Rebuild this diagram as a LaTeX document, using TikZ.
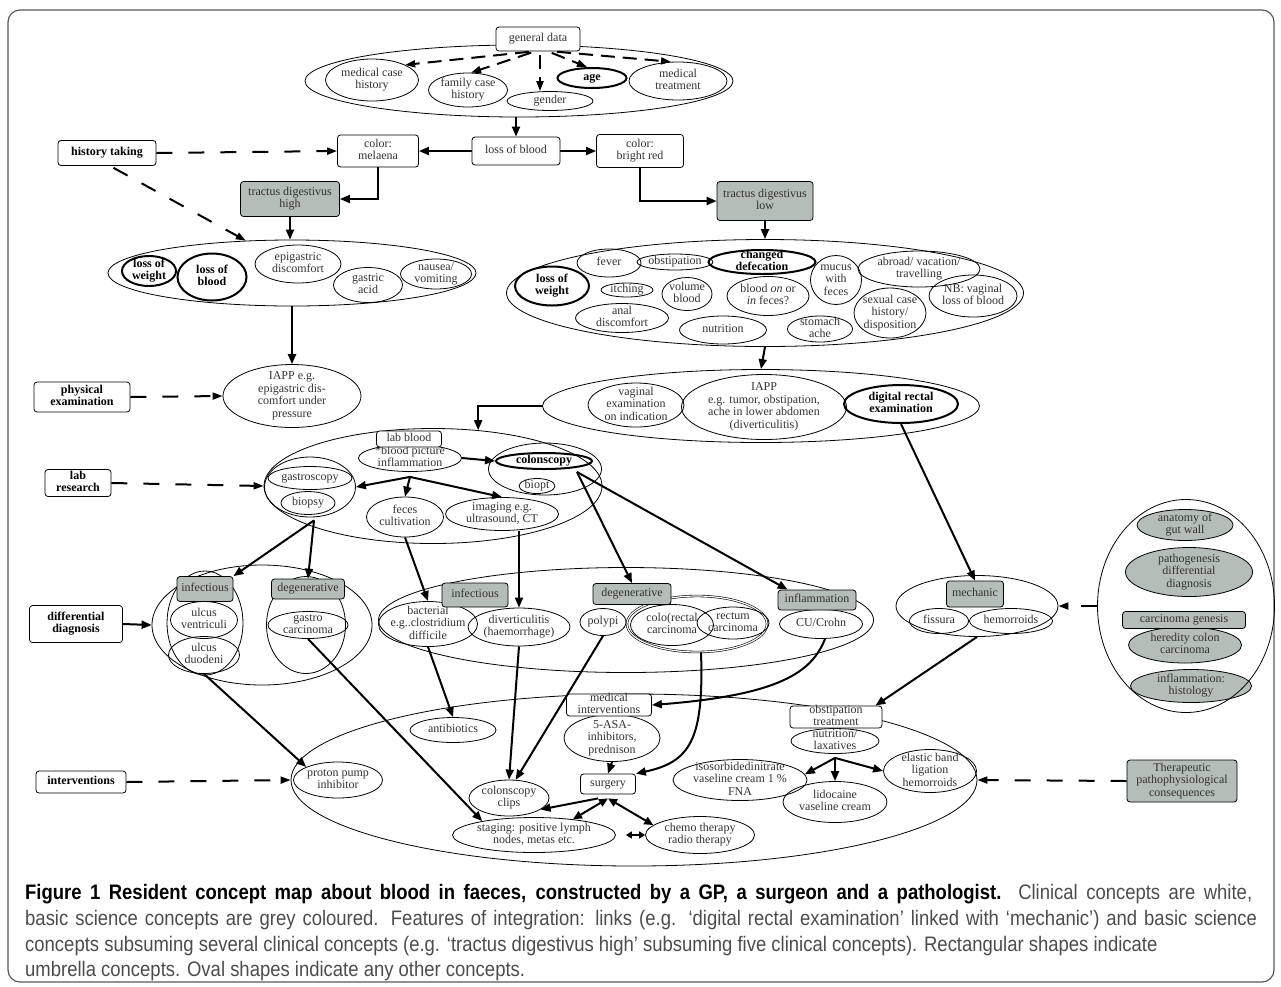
\documentclass[tikz,border=0pt]{standalone}
\usepackage{fontspec}
\setmainfont{Liberation Serif}
\newfontfamily\capfont[FakeStretch=0.88]{Liberation Sans}
\usetikzlibrary{shapes.geometric,arrows.meta}
\definecolor{gfill}{RGB}{181,189,184}
\definecolor{txt}{RGB}{50,50,50}
\newcommand{\zt}[1]{\makebox[0pt]{\raisebox{-3pt}[0pt][0pt]{\begin{tabular}{@{}c@{}}#1\end{tabular}}}}
\begin{document}
\begin{tikzpicture}[x=1pt,y=-1pt,
  every node/.style={font=\fontsize{12}{12.5}\selectfont, text=txt},
  sz/.style 2 args={minimum width=#1pt, minimum height=#2pt},
  ov/.style={ellipse, draw, line width=0.8pt, inner sep=0pt},
  ovt/.style={ellipse, draw, line width=2pt, inner sep=0pt},
  gov/.style={ov, fill=gfill},
  bx/.style={rectangle, rounded corners=3pt, draw, line width=0.8pt, fill=white, inner sep=0pt},
  gbx/.style={bx, fill=gfill},
  bf/.style={font=\fontsize{12}{12.5}\selectfont\bfseries, text=black},
  arr/.style={line width=2pt, -{Triangle[length=10pt,width=8pt]}},
  barr/.style={line width=2pt, {Triangle[length=9pt,width=8pt]}-{Triangle[length=9pt,width=8pt]}},
  sbarr/.style={line width=2pt, {Triangle[length=6pt,width=7pt]}-{Triangle[length=6pt,width=7pt]}},
  darr/.style={line width=2pt, dash pattern=on 16pt off 16pt, -{Triangle[length=10pt,width=7pt]}},
  gdarr/.style={line width=2pt, dash pattern=on 14pt off 8pt, shorten <=4pt, -{Triangle[length=10pt,width=7pt]}}
]
\useasboundingbox (0,0) rectangle (1281,986);
\draw[rounded corners=12pt, line width=1.2pt, black!65] (8,10) rectangle (1274,982);

% ---------- group ellipses ----------
\node[ov, sz={428}{72}] (genell) at (519,81) {};
\node[ov, sz={368}{66}] (highell) at (292,273) {};
\node[ov, sz={517}{107}] (lowell) at (765,293) {};
\node[ov, sz={437}{73}] (iappg) at (761,406) {};
\node[ov, sz={338}{115}] (labg) at (433,486) {};
\node[ov, sz={91}{60}] (gastg) at (310,487) {};
\node[ov, sz={113}{52}] (colg) at (545,469) {};
\node[ov, sz={220}{120}] (dlg) at (262,625) {};
\node[ov, sz={76}{104}] (infg) at (205,623) {};
\node[ov, sz={79}{97}] (degg) at (306,625) {};
\node[ov, sz={495}{105}] (drg) at (626,620) {};
\node[ov, double, double distance=1.2pt, line width=0.6pt, sz={140}{56}] (crg) at (697,624) {};
\node[ov, sz={162}{61}] (mg) at (977,606) {};
\node[ov, sz={686}{172}] (ivg) at (634,780) {};

% ---------- top ----------
\node[ov, sz={93}{42}] (mch) at (372,80) {\zt{medical case\\history}};
\node[ov, sz={79}{34}] (fch) at (468,90) {\zt{family case\\history}};
\node[ov, sz={86}{19}] (gen) at (550,101) {\zt{gender}};
\node[ovt, bf, sz={69}{20}] (age) at (592,78) {\zt{age}};
\node[ov, sz={98}{38}] (mt) at (678,81) {\zt{medical\\treatment}};

% ---------- high ----------
\node[ovt, bf, sz={54}{30}] (lw1) at (149,271) {\zt{loss of\\weight}};
\node[ovt, bf, sz={69}{47}] (lb1) at (212,277) {\zt{loss of\\blood}};
\node[ov, sz={86}{38}] (epi) at (298,264) {\zt{epigastric\\discomfort}};
\node[ov, sz={69}{35}] (ga) at (368,285) {\zt{gastric\\acid}};
\node[ov, sz={71}{30}] (nv) at (436,274) {\zt{nausea/\\vomiting}};
\node[ov, sz={138}{63}] (iapp1) at (292,396) {\zt{IAPP e.g.\\epigastric dis-\\comfort under\\pressure}};

% ---------- low ----------
\node[ov, sz={64}{28}] (fever) at (609,263) {\zt{fever}};
\node[ov, sz={76}{16}] (obst) at (675,262) {\zt{obstipation}};
\node[ovt, bf, sz={107}{24}] (cd) at (762,262) {\zt{changed\\defecation}};
\node[ovt, bf, sz={74}{39}] (lw2) at (552,286) {\zt{loss of\\weight}};
\node[ov, sz={52}{14}] (itch) at (627,290) {\zt{itching}};
\node[ov, sz={50}{33}] (vb) at (687,294) {\zt{volume\\blood}};
\node[ov, sz={82}{39}] (bof) at (768,296) {\zt{blood \textit{on} or\\\textit{in} feces?}};
\node[ov, sz={93}{29}] (ad) at (622,318) {\zt{anal\\discomfort}};
\node[ov, sz={87}{28}] (nut) at (723,330) {\zt{nutrition}};
\node[ov, sz={65}{26}] (sa) at (820,329) {\zt{stomach\\ache}};
\node[ov, sz={51}{49}] (mwf) at (836,280) {\zt{mucus\\with\\feces}};
\node[ov, sz={122}{36}] (abr) at (919,269) {\zt{abroad/ vacation/\\travelling}};
\node[ov, sz={72}{50}] (sch) at (890,313) {\zt{sexual case\\history/\\disposition}};
\node[ov, sz={88}{42}] (nb) at (973,296) {\zt{NB: vaginal\\loss of blood}};

% ---------- IAPP group ----------
\node[ov, sz={96}{44}] (ve) at (636,405) {\zt{vaginal\\examination\\on indication}};
\node[ov, sz={165}{65}] (iapp2) at (764,407) {\zt{IAPP\\e.g. tumor, obstipation,\\ache in lower abdomen\\(diverticulitis)}};
\node[ovt, bf, sz={114}{38}] (dre) at (901,404) {\zt{digital rectal\\examination}};

% ---------- lab ----------
\node[ov, sz={103}{27}] (bp) at (410,458) {\zt{*blood picture\\*inflammation}};
\node[ov, sz={84}{23}] (gast) at (310,478) {\zt{gastroscopy}};
\node[ov, sz={54}{23}] (bio) at (308,503) {\zt{biopsy}};
\node[ovt, bf, sz={96}{16}] (col) at (544,461) {\zt{colonscopy}};
\node[ov, sz={36}{15}] (biopt) at (537,486) {\zt{biopt}};
\node[ov, sz={77}{40}] (fc) at (405,517) {\zt{feces\\cultivation}};
\node[ov, sz={113}{33}] (img) at (502,514) {\zt{imaging e.g.\\ultrasound, CT}};

% ---------- differential ----------
\node[ov, sz={67}{37}] (uv) at (204,620) {\zt{ulcus\\ventriculi}};
\node[ov, sz={71}{37}] (ud) at (204,655) {\zt{ulcus\\duodeni}};
\node[ov, sz={80}{27}] (gc) at (308,625) {\zt{gastro\\carcinoma}};
\node[ov, sz={99}{45}] (bac) at (428,624) {\zt{bacterial\\e.g..clostridium\\difficile}};
\node[ov, sz={102}{38}] (div) at (519,627) {\zt{diverticulitis\\(haemorrhage)}};
\node[ov, sz={46}{27}] (pol) at (603,622) {\zt{polypi}};
\node[ov, sz={83}{41}] (crc) at (672,625) {\zt{colo(rectal\\carcinoma}};
\node[ov, sz={72}{32}] (rc) at (733,623) {\zt{rectum\\carcinoma}};
\node[ov, sz={83}{29}] (cu) at (821,624) {\zt{CU/Crohn}};
\node[ov, sz={59}{25}] (fis) at (939,621) {\zt{fissura}};
\node[ov, sz={83}{25}] (hem) at (1011,621) {\zt{hemorroids}};

% ---------- basic science group ----------
\node[gov, sz={96}{31}] (agw) at (1185,525) {\zt{anatomy of\\gut wall}};
\node[gov, sz={127}{49}] (pdd) at (1189,572) {\zt{pathogenesis\\differential\\diagnosis}};
\node[gov, sz={113}{36}] (hcc) at (1185,645) {\zt{heredity colon\\carcinoma}};
\node[gov, sz={121}{33}] (ih) at (1191,686) {\zt{inflammation:\\histology}};
\node[ov, sz={177}{213}] (bsg) at (1186,606) {};

% ---------- interventions ----------
\node[ov, sz={89}{36}] (ppi) at (338,780) {\zt{proton pump\\inhibitor}};
\node[ov, sz={86}{25}] (ab) at (453,730) {\zt{antibiotics}};
\node[ov, sz={80}{36}] (cc) at (509,798) {\zt{colonscopy\\clips}};
\node[ov, sz={163}{35}] (stg) at (534,835) {\zt{staging: positive lymph\\nodes, metas etc.}};
\node[ov, sz={96}{47}] (asa) at (612,738) {\zt{5-ASA-\\inhibitors,\\prednison}};
\node[ov, sz={109}{37}] (chemo) at (700,835) {\zt{chemo therapy\\radio therapy}};
\node[ov, sz={88}{25}] (nl) at (835,741) {\zt{nutrition/\\laxatives}};
\node[ov, sz={134}{41}] (iso) at (740,780) {\zt{isosorbidedinitrate\\vaseline cream 1 \%\\FNA}};
\node[ov, sz={104}{41}] (lido) at (835,802) {\zt{lidocaine\\vaseline cream}};
\node[ov, sz={93}{43}] (eb) at (930,771) {\zt{elastic band\\ligation\\hemorroids}};

% ---------- boxes ----------
\node[bx, sz={84}{24}] (gd) at (538,39) {\zt{general data}};
\node[bx, sz={88}{28}] (lob) at (516,151) {\zt{loss of blood}};
\node[bx, sz={81}{32}] (mel) at (378,151) {\zt{color:\\melaena}};
\node[bx, sz={87}{33}] (br) at (640,151) {\zt{color:\\bright red}};
\node[bx, bf, sz={98}{25}] (ht) at (107,153) {\zt{history taking}};
\node[gbx, sz={99}{35}] (th) at (290,199) {\zt{tractus digestivus\\high}};
\node[gbx, sz={96}{39}] (tl) at (765,201) {\zt{tractus digestivus\\low}};
\node[bx, bf, sz={96}{30}] (pe) at (82,397) {\zt{physical\\examination}};
\node[bx, bf, sz={66}{27}] (lr) at (78,483) {\zt{lab\\research}};
\node[bx, sz={65}{16}] (lbb) at (409,439) {\zt{lab blood}};
\node[bx, bf, sz={93}{37}] (dd) at (76,624) {\zt{differential\\diagnosis}};
\node[gbx, sz={56}{25}] (inf1) at (205,589) {\zt{infectious}};
\node[gbx, sz={73}{20}] (deg1) at (308,589) {\zt{degenerative}};
\node[gbx, sz={66}{24}] (inf2) at (475,595) {\zt{infectious}};
\node[gbx, sz={78}{21}] (deg2) at (632,594) {\zt{degenerative}};
\node[gbx, sz={78}{20}] (infl) at (817,600) {\zt{inflammation}};
\node[gbx, sz={57}{26}] (mech) at (975,594) {\zt{mechanic}};
\node[gbx, sz={123}{17}] (cg) at (1184,620) {\zt{carcinoma genesis}};
\node[bx, bf, sz={90}{22}] (iv) at (81,782) {\zt{interventions}};
\node[bx, sz={85}{22}] (mi) at (609,705) {\zt{medical\\interventions}};
\node[bx, sz={55}{20}] (sur) at (608,784) {\zt{surgery}};
\node[bx, sz={92}{22}] (ot) at (836,717) {\zt{obstipation\\treatment}};
\node[gbx, sz={110}{42}] (tpc) at (1182,781) {\zt{Therapeutic\\pathophysiological\\consequences}};

% ---------- helper coordinates ----------
\coordinate (bpo) at ([yshift=-5pt]bp.south);
\coordinate (gso) at ([xshift=4pt,yshift=-3pt]gastg.south);
\coordinate (co) at (577,472);
\coordinate (sb) at ([yshift=-4pt]sur.south);
\coordinate (no) at ([yshift=-4pt]nl.south);

% ---------- dashed connectors ----------
\draw[gdarr] ([xshift=-5pt]gd.south) -- (mch.north east);
\draw[gdarr] ([xshift=-3pt]gd.south) -- (fch.80);
\draw[gdarr] ([xshift=2pt]gd.south) -- ([xshift=-10pt]gen.north);
\draw[gdarr] ([xshift=10pt]gd.south) -- ([xshift=-5pt]age.north);
\draw[gdarr] ([xshift=15pt]gd.south) -- (mt.110);
\draw[darr] (ht.east) -- (mel.west);
\draw[darr, shorten <=4pt] ([xshift=3pt]ht.south) -- (highell.145);
\draw[darr] (pe.east) -- (iapp1.west);
\draw[darr] (lr.east) -- (labg.west);
\draw[darr] (iv.east) -- (ivg.west);
\draw[darr] (bsg.west) -- (mg.east);
\draw[darr] (tpc.west) -- (ivg.east);

% ---------- solid connectors ----------
\draw[arr] (genell.south -| lob.north) -- (lob.north);
\draw[arr] (lob.west) -- (mel.east);
\draw[arr] (lob.east) -- (br.west);
\draw[arr] (mel.south) |- (th.east);
\draw[arr] (th.south) -- (th.south |- highell.north);
\draw[arr] (highell.south) -- (iapp1.north);
\draw[arr] (br.south) |- (tl.west);
\draw[arr] (tl.south) -- (lowell.north);
\draw[arr] (lowell.south) -- (iappg.north);
\draw[arr] (iappg.west) -| (labg.51);
\draw[arr] (bpo) -- (gastg.east);
\draw[arr] (bpo) -- (fc.north);
\draw[arr] (bpo) -- (img.north);
\draw[arr] (bp.east) -- (col.west);
\draw[arr] (gso) -- (inf1.north east);
\draw[arr] (gso) -- (deg1.north);
\draw[arr] (fc.south) -- (bac.north);
\draw[arr] (img.south -| div.north) -- (div.north);
\draw[arr] (co) -- (deg2.north);
\draw[arr] (co) -- ([xshift=10pt]infl.north west);
\draw[arr] (dre.south) -- (mech.north);
\draw[arr] (dd.east) -- (dlg.west);
\draw[arr] (bac.south) -- (ab.north);
\draw[arr] (div.south) -- (cc.north);
\draw[arr] (pol.south) -- (cc.70);
\draw[arr] ([xshift=4pt]crg.south) .. controls (704,740) and (690,762) .. (sur.north east);
\draw[arr] ([xshift=4pt]cu.south) .. controls (812,672) and (780,695) .. (mi.east);
\draw[arr] (mg.south) -- ([xshift=-7pt]ot.north east);
\draw[arr] (ud.south) -- (ppi.north west);
\draw[arr] (gc.south) -- (stg.165);
\draw[arr] (asa.south) -- (sur.north);
\draw[arr] ([xshift=-10pt]sb) -- (cc.-20);
\draw[barr] (sb) -- (stg.22);
\draw[barr] (sb) -- (chemo.168);
\draw[sbarr] ([xshift=10pt]stg.east) -- (chemo.west);
\draw[arr] (no) -- (iso.5);
\draw[arr] (no) -- (lido.north);
\draw[arr] (no) -- (eb.west);

% ---------- caption ----------
\begin{scope}[every node/.style={anchor=base west, inner sep=0pt, font=\capfont\fontsize{21}{24}\selectfont, text=black!70}]
\node (c1) at (25,899) {\makebox[1227pt][s]{\textcolor{black}{\bfseries Figure 1 Resident concept map about blood in faeces, constructed by a GP, a surgeon and a pathologist.} Clinical concepts are white,}};
\node (c2) at (25,925) {\makebox[1232pt][s]{basic science concepts are grey coloured. Features of integration: links (e.g. ‘digital rectal examination’ linked with ‘mechanic’) and basic science}};
\node (c3) at (25,951) {concepts subsuming several clinical concepts (e.g. ‘tractus digestivus high’ subsuming five clinical concepts). Rectangular shapes indicate};
\node (c4) at (25,976) {umbrella concepts. Oval shapes indicate any other concepts.};
\end{scope}
\end{tikzpicture}
\end{document}
